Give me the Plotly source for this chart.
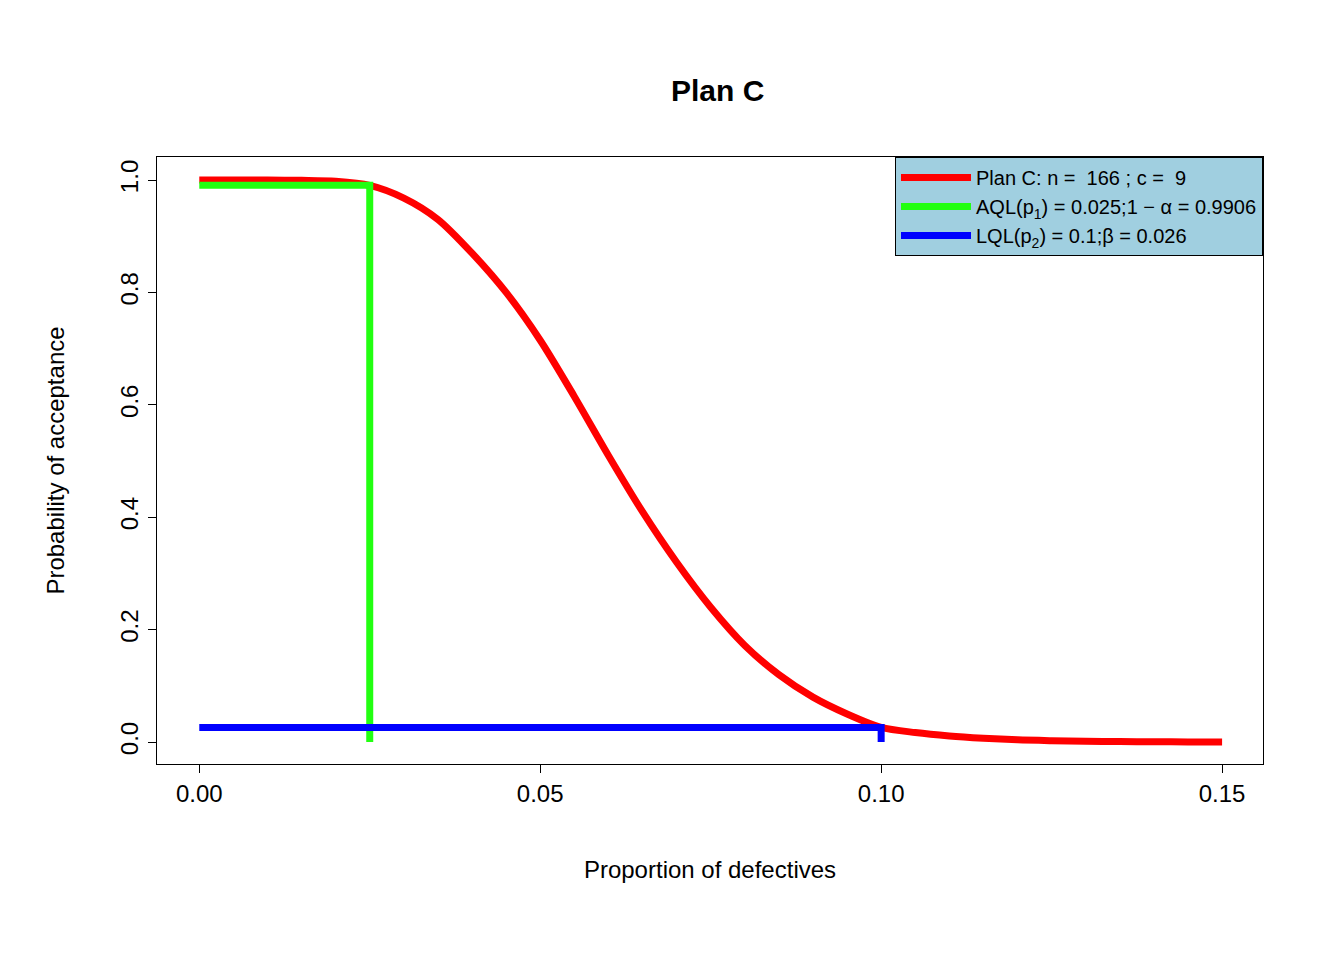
import plotly.graph_objects as go

# OC curve values
p_defect = [0, 0.005, 0.01, 0.015, 0.02, 0.025, 0.03, 0.035, 0.04, 0.045, 0.05,
            0.055, 0.06, 0.065, 0.07, 0.075, 0.08, 0.085, 0.09, 0.095, 0.10,
            0.105, 0.11, 0.115, 0.12, 0.125, 0.13, 0.135, 0.14, 0.145, 0.15]
p_accept = [1.0, 1.0, 1.0, 0.9995, 0.998, 0.9906, 0.968, 0.93, 0.87, 0.80, 0.715,
            0.615, 0.51, 0.41, 0.32, 0.24, 0.172, 0.12, 0.08, 0.05, 0.026,
            0.017, 0.011, 0.007, 0.004, 0.0025, 0.0015, 0.001, 0.0005, 0.0003, 0.0002]

aql_x = [0, 0.025, 0.025]
aql_y = [0.9906, 0.9906, 0]
lql_x = [0, 0.1, 0.1]
lql_y = [0.026, 0.026, 0]

fig = go.Figure()
fig.add_trace(go.Scatter(x=p_defect, y=p_accept, mode="lines",
                         line=dict(color="red", width=7, shape="spline", smoothing=0.8),
                         name="Plan C: n =  166 ; c =  9"))
fig.add_trace(go.Scatter(x=aql_x, y=aql_y, mode="lines", line=dict(color="#22ff11", width=7),
                         name="AQL(p<sub>1</sub>) = 0.025;1 − α = 0.9906"))
fig.add_trace(go.Scatter(x=lql_x, y=lql_y, mode="lines", line=dict(color="blue", width=7),
                         name="LQL(p<sub>2</sub>) = 0.1;β = 0.026"))

axis_common = dict(showgrid=False, zeroline=False, showline=True, mirror=True, linecolor="black",
                   ticks="outside", ticklen=8, tickcolor="black", tickfont=dict(size=24, color="black"))
fig.update_layout(
    width=1344, height=960, plot_bgcolor="white", paper_bgcolor="white",
    font=dict(family="Liberation Sans, Arial", color="black"),
    margin=dict(l=149, r=89, t=149, b=204),
    title=dict(text="<b>Plan C</b>", x=0.528, xanchor="center", y=0.925, font=dict(size=30)),
    xaxis=dict(range=[-0.0062, 0.156], tickvals=[0, 0.05, 0.10, 0.15], ticktext=["0.00", "0.05", "0.10", "0.15"],
               title=dict(text="Proportion of defectives", font=dict(size=24), standoff=55), **axis_common),
    yaxis=dict(range=[-0.039, 1.041], tickvals=[0, 0.2, 0.4, 0.6, 0.8, 1.0],
               ticktext=["0.0", "0.2", "0.4", "0.6", "0.8", "1.0"], tickangle=-90,
               title=dict(text="Probability of acceptance", font=dict(size=24), standoff=45), **axis_common),
    legend=dict(x=1, y=1, xanchor="right", yanchor="top", bgcolor="#a0cfe0", bordercolor="black",
                borderwidth=1, font=dict(size=20), tracegroupgap=0, itemwidth=70),
)
fig.write_html("out.html")
